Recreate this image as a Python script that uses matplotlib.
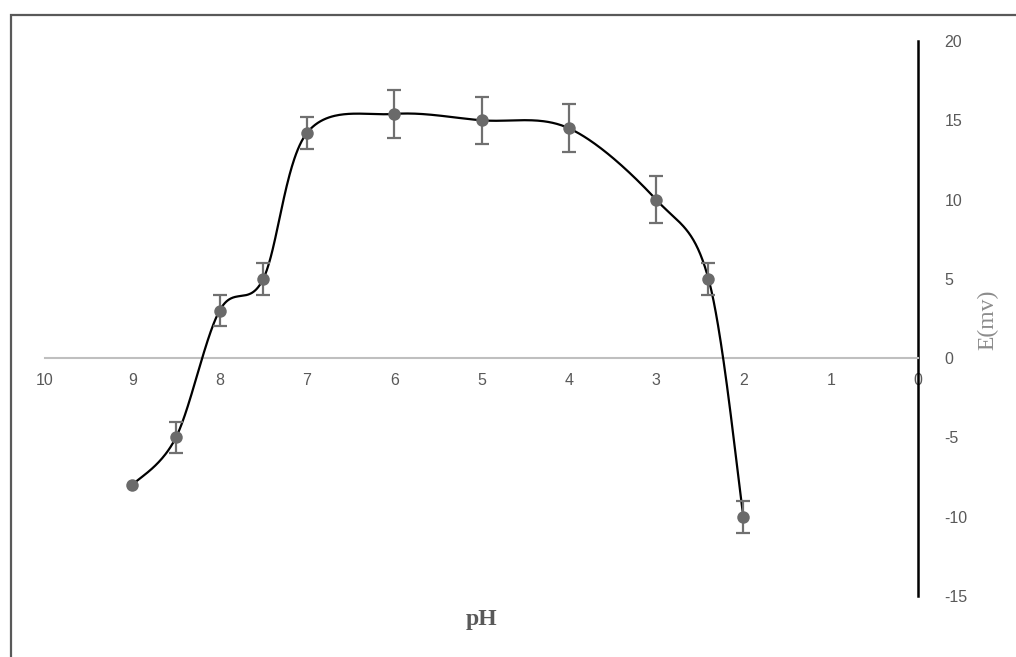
import numpy as np
import matplotlib
matplotlib.use("Agg")
import matplotlib.pyplot as plt
from matplotlib.patches import Rectangle

# Data
ph = [9, 8.5, 8, 7.5, 7, 6, 5, 4, 3, 2.4, 2]
e_mv = [-8, -5, 3, 5, 14.2, 15.4, 15.0, 14.5, 10.0, 5.0, -10.0]
err = [0, 1, 1, 1, 1, 1.5, 1.5, 1.5, 1.5, 1, 1]
xticks = [10, 9, 8, 7, 6, 5, 4, 3, 2, 1, 0]
yticks = [-15, -10, -5, 0, 5, 10, 15, 20]


def catmull_rom(xs, ys, n=60):
    xs = np.asarray(xs, float)
    ys = np.asarray(ys, float)
    P = np.column_stack([xs, ys])
    P = np.vstack([P[0], P, P[-1]])
    out = []
    for i in range(1, len(P) - 2):
        p0, p1, p2, p3 = P[i - 1], P[i], P[i + 1], P[i + 2]
        c1 = p1 + (p2 - p0) / 6.0
        c2 = p2 - (p3 - p1) / 6.0
        t = np.linspace(0, 1, n)[:, None]
        b = ((1 - t) ** 3) * p1 + 3 * ((1 - t) ** 2) * t * c1 + 3 * (1 - t) * t ** 2 * c2 + t ** 3 * p2
        out.append(b)
    B = np.vstack(out)
    return B[:, 0], B[:, 1]


W, H = 1016, 657
fig = plt.figure(figsize=(W / 100, H / 100), dpi=100)

# outer chart border (cropped chart frame)
fig.patches.append(Rectangle((11 / W, -0.1), 1.2, (H - 15) / H + 0.1, transform=fig.transFigure,
                             fill=False, edgecolor="#595959", linewidth=1.6, zorder=0))

x0, x1 = 45, 918
y0, y1 = 41, 596
ax = fig.add_axes([x0 / W, 1 - y1 / H, (x1 - x0) / W, (y1 - y0) / H])
ax.set_xlim(10, 0)
ax.set_ylim(-15, 20)
ax.patch.set_alpha(0)

for s in ["top", "left"]:
    ax.spines[s].set_visible(False)
ax.spines["bottom"].set_position(("data", 0))
ax.spines["bottom"].set_color("#bfbfbf")
ax.spines["bottom"].set_linewidth(1.5)
ax.spines["right"].set_color("black")
ax.spines["right"].set_linewidth(1.8)

lab_font = ["Liberation Sans Narrow", "Liberation Sans", "DejaVu Sans"]
ax.set_xticks(xticks)
ax.set_xticklabels([str(v) for v in xticks], family=lab_font, fontsize=11.5, color="#595959")
ax.tick_params(axis="x", length=0, pad=11)
ax.yaxis.tick_right()
ax.set_yticks(yticks)
ax.set_yticklabels([str(v) for v in yticks], family=lab_font, fontsize=11.5, color="#595959")
ax.tick_params(axis="y", length=0, pad=19)

sx, sy = catmull_rom(ph, e_mv)
ax.plot(sx, sy, color="black", linewidth=1.6, zorder=3, clip_on=False)

ex = [p for p, e in zip(ph, err) if e > 0]
ey = [v for v, e in zip(e_mv, err) if e > 0]
ee = [e for e in err if e > 0]
ax.errorbar(ex, ey, yerr=ee, fmt="none", ecolor="#707070", elinewidth=1.6,
            capsize=5, capthick=1.6, zorder=4)
ax.plot(ph, e_mv, "o", color="#6a6a6a", markersize=9, zorder=5, markeredgewidth=0)

fig.text(482 / W, 1 - 620 / H, "pH", family=["Liberation Serif", "DejaVu Serif"], fontweight="bold",
         fontsize=17, color="#595959", ha="center", va="center")
fig.text(988 / W, 1 - 320 / H, "E(mv)", family=["Liberation Serif", "DejaVu Serif"],
         fontsize=17, color="#8c8c8c", ha="center", va="center", rotation=90)

fig.savefig("out.png", dpi=100)
